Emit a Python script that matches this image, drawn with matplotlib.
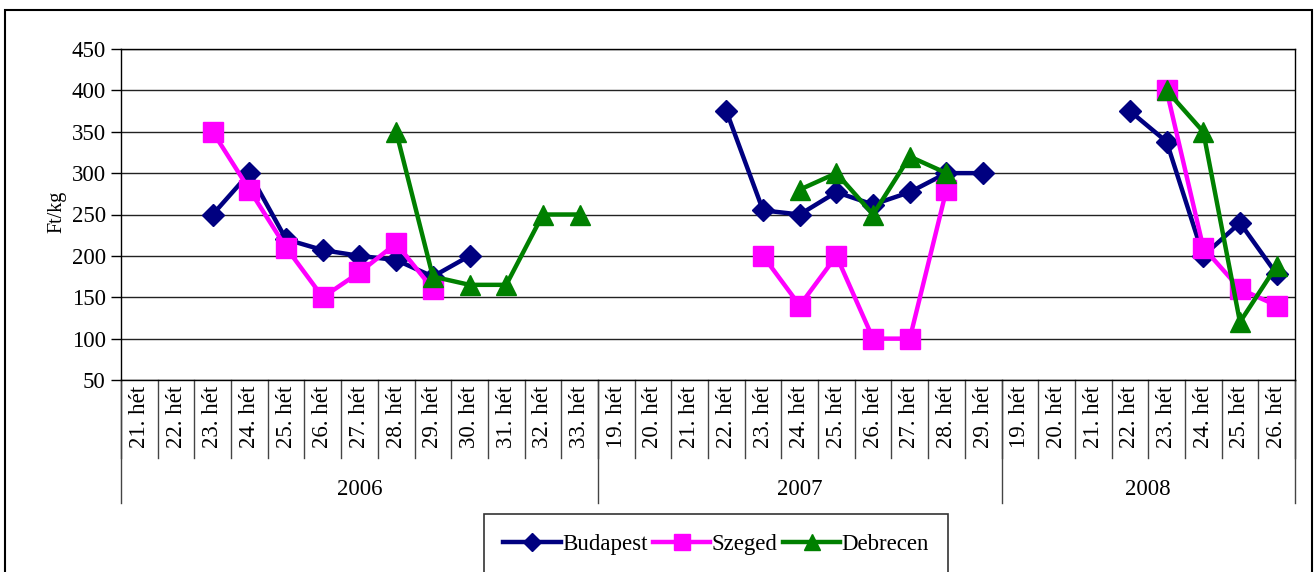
import numpy as np
import matplotlib
matplotlib.use("Agg")
from matplotlib import pyplot as plt
from matplotlib.patches import Rectangle

plt.rcParams['font.family'] = ['Liberation Serif', 'DejaVu Serif']

nan = np.nan
years = ['2006', '2007', '2008']
weeks_2006 = ['21', '22', '23', '24', '25', '26', '27', '28', '29', '30', '31', '32', '33']
weeks_2007 = ['19', '20', '21', '22', '23', '24', '25', '26', '27', '28', '29']
weeks_2008 = ['19', '20', '21', '22', '23', '24', '25', '26']

# prices in Ft/kg, one value per week (nan = no data)
budapest = [nan, nan, 250, 300, 220, 207, 200, 195, 175, 200, nan, nan, nan,
            nan, nan, nan, 375, 255, 250, 277, 262, 277, 300, 300,
            nan, nan, nan, 375, 338, 200, 240, 178]
szeged = [nan, nan, 350, 280, 210, 150, 180, 215, 160, nan, nan, nan, nan,
          nan, nan, nan, nan, 200, 140, 200, 100, 100, 280, nan,
          nan, nan, nan, nan, 400, 210, 160, 140]
debrecen = [nan, nan, nan, nan, nan, nan, nan, 350, 175, 165, 165, 250, 250,
            nan, nan, nan, nan, nan, 280, 300, 250, 320, 300, nan,
            nan, nan, nan, nan, 400, 350, 120, 188]

groups = [weeks_2006, weeks_2007, weeks_2008]
labels = [w + '. hét' for g in groups for w in g]
x = np.arange(len(labels))

fig = plt.figure(figsize=(13.15, 5.72), dpi=100)
W, H = 1315, 572
ax = fig.add_axes([121 / W, 1 - 380 / H, (1295 - 121) / W, (380 - 49) / H])

ax.plot(x, budapest, color='#000080', lw=3.2, marker='D', ms=11.5, label='Budapest')
ax.plot(x, szeged, color='#FF00FF', lw=3.2, marker='s', ms=14, label='Szeged')
ax.plot(x, debrecen, color='#008000', lw=3.2, marker='^', ms=15, label='Debrecen')

ax.set_xlim(-0.5, len(labels) - 0.5)
ax.set_ylim(50, 450)
ax.set_yticks(np.arange(50, 451, 50))
ax.yaxis.grid(True, color='#222222', lw=1)
ax.set_axisbelow(True)
ax.tick_params(axis='y', labelsize=16.5, length=7, width=1, pad=4)
ax.set_xticks([])
for s in ax.spines.values():
    s.set_color('black')
    s.set_linewidth(1)

# category labels and separators below the axis
tr = ax.get_xaxis_transform()
for i, lab in enumerate(labels):
    ax.text(i, -0.018, lab, rotation=90, ha='center', va='top', fontsize=16.5, transform=tr)
for i in range(len(labels) + 1):
    ax.plot([i - 0.5, i - 0.5], [0, -0.236], color='#444444', lw=1, transform=tr, clip_on=False)
start = 0
for yr, g in zip(years, groups):
    ax.plot([start - 0.5, start - 0.5], [0, -0.372], color='#444444', lw=1, transform=tr, clip_on=False)
    ax.text(start + (len(g) - 1) / 2, -0.332, yr, ha='center', va='center', fontsize=16.5, transform=tr)
    start += len(g)
ax.plot([start - 0.5, start - 0.5], [0, -0.372], color='#444444', lw=1, transform=tr, clip_on=False)

fig.text(57 / W, 1 - 212 / H, 'Ft/kg', rotation=90, ha='center', va='center', fontsize=14.5)

leg = fig.legend(loc='upper left', bbox_to_anchor=(484 / W, 1 - 514 / H), ncol=3,
                 fontsize=16.5, frameon=True, fancybox=False, edgecolor='black',
                 handlelength=2.5, handletextpad=0.05, columnspacing=0.25,
                 markerscale=0.8, borderpad=0.85, borderaxespad=0)
leg.get_frame().set_linewidth(1.2)

# outer chart border
fig.patches.append(Rectangle((5 / W, -0.05), (1312 - 5) / W, 1 - 10 / H + 0.05,
                             transform=fig.transFigure, fill=False, edgecolor='black', lw=1.5))

plt.savefig('out.png', dpi=100)
